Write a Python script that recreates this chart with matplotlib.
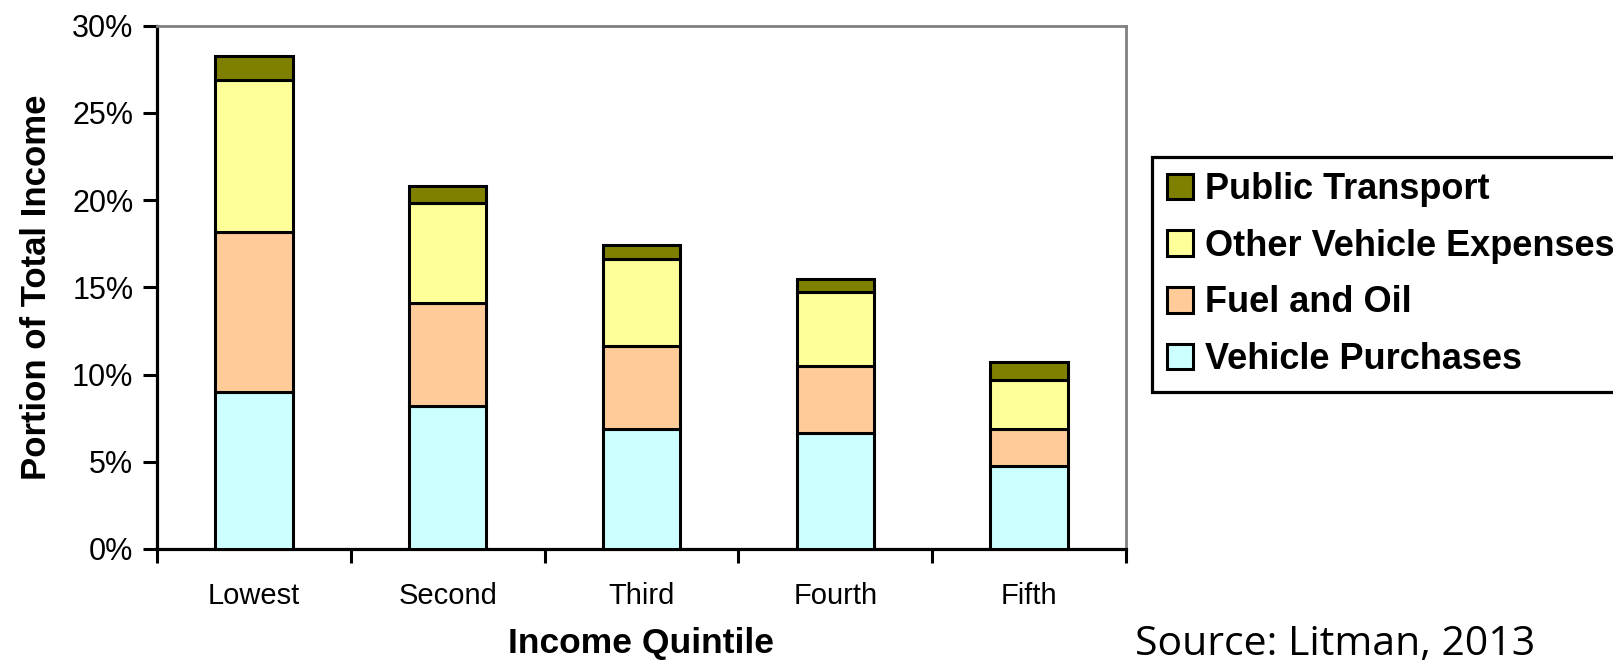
import matplotlib
matplotlib.use("Agg")
import matplotlib.pyplot as plt
import numpy as np
from matplotlib.ticker import FuncFormatter, FixedLocator

# Transport spending as a share of total income, by income quintile (percent)
categories = ["Lowest", "Second", "Third", "Fourth", "Fifth"]
vehicle_purchases = [9.0, 8.2, 6.85, 6.65, 4.75]
fuel_and_oil = [9.15, 5.9, 4.8, 3.85, 2.1]
other_vehicle_expenses = [8.75, 5.7, 4.95, 4.2, 2.85]
public_transport = [1.35, 1.0, 0.8, 0.8, 1.0]

series_names = ["Vehicle Purchases", "Fuel and Oil",
                "Other Vehicle Expenses", "Public Transport"]
series_colors = ["#CCFFFF", "#FFCC99", "#FFFF99", "#808000"]
y_ticks = [0, 5, 10, 15, 20, 25, 30]

W, H, DPI = 1613, 662, 100
fig = plt.figure(figsize=(W / DPI, H / DPI), dpi=DPI)
fig.patch.set_facecolor("white")

ax = fig.add_axes([157 / W, 1 - 549 / H, (1126 - 157) / W, (549 - 25.5) / H])

x = np.arange(len(categories))
series = [vehicle_purchases, fuel_and_oil, other_vehicle_expenses, public_transport]
bottom = np.zeros(len(categories))
handles = []
for name, vals, col in zip(series_names, series, series_colors):
    bars = ax.bar(x, vals, width=0.4, bottom=bottom, color=col,
                  edgecolor="black", linewidth=2.2, label=name, zorder=3)
    handles.append(bars)
    bottom = bottom + np.array(vals)

ax.set_xlim(-0.5, len(categories) - 0.5)
ax.set_ylim(0, 30)

font = "Liberation Sans"

# y axis: percent ticks
ax.yaxis.set_major_locator(FixedLocator(y_ticks))
ax.yaxis.set_major_formatter(FuncFormatter(lambda v, p: f"{v:.0f}%"))

# x axis: ticks on category boundaries, labels centred under each bar
ax.set_xticks(np.arange(-0.5, len(categories), 1.0))
ax.set_xticklabels([])
ax.set_xticks(x, minor=True)
ax.set_xticklabels(categories, minor=True, fontfamily=font, fontsize=21)
ax.tick_params(axis="x", which="minor", length=0, pad=24)
ax.tick_params(axis="x", which="major", direction="out", length=10, width=2.2)
ax.tick_params(axis="y", direction="out", length=10, width=2.2, pad=7,
               labelsize=22)
for lbl in ax.get_yticklabels():
    lbl.set_fontfamily(font)

for side in ("left", "bottom"):
    ax.spines[side].set_color("black")
    ax.spines[side].set_linewidth(2.3)
for side in ("top", "right"):
    ax.spines[side].set_color("#808080")
    ax.spines[side].set_linewidth(2.0)

ax.set_ylabel("Portion of Total Income", fontfamily=font, fontweight="bold",
              fontsize=25, labelpad=14)
ax.set_xlabel("Income Quintile", fontfamily=font, fontweight="bold",
              fontsize=25.5, labelpad=12)

leg = fig.legend(handles[::-1], series_names[::-1],
                 loc="upper left", bbox_to_anchor=(1152 / W, 1 - 157 / H),
                 bbox_transform=fig.transFigure, borderaxespad=0,
                 prop={"family": font, "weight": "bold", "size": 26},
                 frameon=True, fancybox=False, borderpad=0.42,
                 handlelength=0.72, handleheight=0.72, handletextpad=0.32,
                 labelspacing=0.6)
leg.get_frame().set_edgecolor("black")
leg.get_frame().set_linewidth(2.3)
leg.get_frame().set_facecolor("white")
leg.get_frame().set_alpha(1)

fig.text(1135 / W, 1 - 655 / H, "Source: Litman, 2013", fontfamily="Open Sans",
         fontsize=29.5, ha="left", va="baseline", color="black")

fig.savefig("out.png", dpi=DPI, facecolor="white")
